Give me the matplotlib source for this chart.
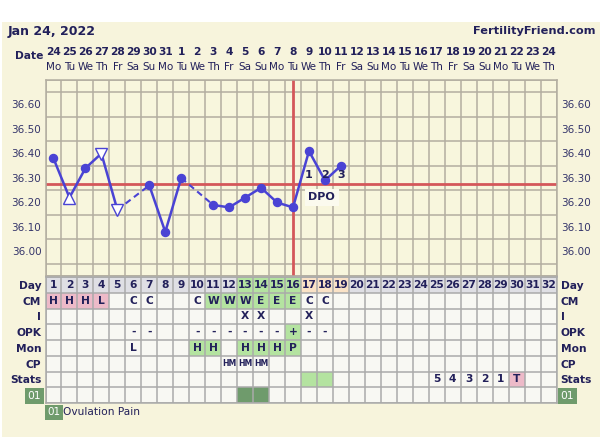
import numpy as np
import matplotlib.pyplot as plt
from matplotlib.patches import Rectangle
from matplotlib.transforms import blended_transform_factory

# ---- data ----
dates = [24, 25, 26, 27, 28, 29, 30, 31, 1, 2, 3, 4, 5, 6, 7, 8,
         9, 10, 11, 12, 13, 14, 15, 16, 17, 18, 19, 20, 21, 22, 23, 24]
dows = ['Mo', 'Tu', 'We', 'Th', 'Fr', 'Sa', 'Su'] * 5
dows = dows[:32]
days = np.arange(1, 33)

temps = [36.38, 36.22, 36.34, 36.40, 36.17, np.nan, 36.27, 36.08, 36.30, np.nan,
         36.19, 36.18, 36.22, 36.26, 36.20, 36.18, 36.41, 36.29, 36.35]
open_up = [2]
open_down = [4, 5]
coverline = 36.277
ovulation_day = 16
dpo_days = [17, 18, 19]

row_names = ['Day', 'CM', 'I', 'OPK', 'Mon', 'CP', 'Stats', '01']
cm = {1: 'H', 2: 'H', 3: 'H', 4: 'L', 6: 'C', 7: 'C', 10: 'C', 11: 'W', 12: 'W',
      13: 'W', 14: 'E', 15: 'E', 16: 'E', 17: 'C', 18: 'C'}
cm_pink = [1, 2, 3, 4]
cm_green = [11, 12, 13, 14, 15, 16]
intercourse = {13: 'X', 14: 'X', 17: 'X'}
opk = {6: '-', 7: '-', 10: '-', 11: '-', 12: '-', 13: '-', 14: '-', 15: '-',
       16: '+', 17: '-', 18: '-'}
opk_green = [16]
mon = {6: 'L', 10: 'H', 11: 'H', 13: 'H', 14: 'H', 15: 'H', 16: 'P'}
mon_green = [10, 11, 13, 14, 15, 16]
cp = {12: 'HM', 13: 'HM', 14: 'HM'}
stats = {25: '5', 26: '4', 27: '3', 28: '2', 29: '1', 30: 'T'}
stats_green = [17, 18]
stats_pink = [30]
ov_pain = [13, 14]
fertile_days = [13, 14, 15, 16]
dpo_col_days = [17, 18, 19]

# ---- style ----
navy = '#22205a'
bg = '#f7f4dc'
gridc = '#b3aea0'
red = '#d4575a'
blue = '#4a43d4'
pink = '#edbac8'
lgreen = '#b4e3a0'
dgreen = '#6f9b6c'
W, H = 600, 437

fig = plt.figure(figsize=(6, 4.37), dpi=100, facecolor='white')
fig.patches.append(Rectangle((2 / W, 0), 1, 1 - 22 / H, transform=fig.transFigure,
                             facecolor=bg, edgecolor='none', zorder=-10))

def fx(px):
    return px / W

def fy(py):
    return 1 - py / H

x0, x1 = 45.5, 556.5

# ---- temperature chart ----
ax = fig.add_axes([fx(x0), fy(276), fx(x1 - x0), (276 - 80) / H])
ax.set_facecolor('#f8f6dd')
ax.set_xlim(0.5, 32.5)
ax.set_ylim(35.90, 36.70)
ax.set_xticks(np.arange(0.5, 33, 1), minor=True)
ax.set_xticks([])
ax.set_yticks(np.arange(35.90, 36.701, 0.05), minor=True)
ax.set_yticks(np.arange(36.0, 36.61, 0.1))
ax.set_yticklabels(['%.2f' % v for v in np.arange(36.0, 36.61, 0.1)])
ax.tick_params(which='both', length=0, labelleft=True, labelright=True,
               labelsize=7.5, labelcolor='#34346a', pad=3)
ax.grid(which='minor', color=gridc, lw=1.1)
for s in ax.spines.values():
    s.set_color(gridc)
    s.set_linewidth(1.1)

t = np.array(temps)
d = np.arange(1, len(t) + 1)
ax.axhline(coverline, color=red, lw=2, zorder=2)
ax.axvline(ovulation_day, color=red, lw=2, zorder=2)
ax.plot(d, t, color=blue, lw=1.8, zorder=3)
# dashed connectors over missing days
valid = ~np.isnan(t)
vd = d[valid]
vt = t[valid]
for i in range(len(vd) - 1):
    if vd[i + 1] - vd[i] > 1:
        ax.plot([vd[i], vd[i + 1]], [vt[i], vt[i + 1]], color=blue, lw=1.5,
                ls=(0, (3, 2)), zorder=3)
normal = [k for k in vd if k not in open_up + open_down]
ax.plot(normal, t[np.array(normal) - 1], 'o', color=blue, ms=5.8, zorder=4)
ax.plot(open_up, t[np.array(open_up) - 1], '^', mfc='white', mec=blue, ms=8, mew=1,
        zorder=4)
ax.plot(open_down, t[np.array(open_down) - 1], 'v', mfc='white', mec=blue, ms=8,
        mew=1, zorder=4)
for k, dd in enumerate(dpo_days):
    ax.text(dd, 36.312, str(k + 1), ha='center', va='center', fontsize=8,
            fontweight='bold', color=navy, zorder=5)
ax.text(np.mean(dpo_days) - 0.2, 36.222, 'DPO', ha='center', va='center', fontsize=8,
        fontweight='bold', color=navy, zorder=5,
        bbox=dict(facecolor='#fbfaee', edgecolor='none', pad=2.5))

# header
hdr = blended_transform_factory(ax.transData, fig.transFigure)
for dd, dt, dw in zip(days, dates, dows):
    ax.text(dd, fy(52), str(dt), transform=hdr, ha='center', va='center',
            fontsize=7.7, fontweight='bold', color=navy)
    ax.text(dd, fy(67), dw, transform=hdr, ha='center', va='center',
            fontsize=7.5, color=navy)
fig.text(fx(43), fy(56), 'Date', ha='right', va='center', fontsize=7.7,
         fontweight='bold', color=navy)
fig.text(fx(8), fy(31), 'Jan 24, 2022', ha='left', va='center', fontsize=9,
         fontweight='bold', color=navy)
fig.text(fx(595), fy(31), 'FertilityFriend.com', ha='right', va='center',
         fontsize=8.2, fontweight='bold', color=navy)

# ---- data table ----
tb = fig.add_axes([fx(x0), fy(403), fx(x1 - x0), (403 - 277) / H])
tb.set_facecolor('#f8f8f3')
tb.set_xlim(0.5, 32.5)
tb.set_ylim(len(row_names), 0)
tb.set_xticks([])
tb.set_xticks(np.arange(0.5, 33, 1), minor=True)
tb.set_yticks(np.arange(0, len(row_names) + 1), minor=True)
tb.set_yticks(np.arange(len(row_names)) + 0.5)
tb.set_yticklabels(row_names)
tb.tick_params(which='both', length=0, labelleft=True, labelright=True,
               labelsize=7.7, labelcolor=navy, pad=3)
for tk in tb.yaxis.get_major_ticks():
    for lab in (tk.label1, tk.label2):
        lab.set_fontweight('bold')
        if lab.get_text() == '01':
            lab.set_color('white')
            lab.set_fontweight('normal')
            lab.set_bbox(dict(facecolor=dgreen, edgecolor='none', pad=2))
tb.grid(which='minor', color='#aaaaaa', lw=1.1)
for s in tb.spines.values():
    s.set_color('#aaaaaa')
    s.set_linewidth(1.1)

def row_bg(row, cols, color):
    if cols:
        tb.bar(cols, 1, bottom=row, width=1, color=color, zorder=1)

row_bg(0, list(days), '#dfdfe4')
row_bg(0, fertile_days, lgreen)
row_bg(0, dpo_col_days, '#fae2c6')
row_bg(1, cm_pink, pink)
row_bg(1, cm_green, lgreen)
row_bg(3, opk_green, lgreen)
row_bg(4, mon_green, lgreen)
row_bg(6, stats_green, lgreen)
row_bg(6, stats_pink, pink)
row_bg(7, ov_pain, dgreen)

for dd in days:
    tb.text(dd, 0.5, str(dd), ha='center', va='center', fontsize=7.7,
            fontweight='bold', color=navy, zorder=3)
for row, vals in [(1, cm), (2, intercourse), (3, opk), (4, mon), (6, stats)]:
    for dd, txt in vals.items():
        tb.text(dd, row + 0.5, txt, ha='center', va='center', fontsize=7.7,
                fontweight='bold', color=navy, zorder=3)
for dd, txt in cp.items():
    tb.text(dd, 5.5, txt, ha='center', va='center', fontsize=5.6,
            fontweight='bold', color=navy, zorder=3)

# legend
fig.text(fx(47), fy(412), '01', ha='left', va='center', fontsize=7.5, color='white',
         bbox=dict(facecolor=dgreen, edgecolor='none', pad=1.8))
fig.text(fx(63), fy(412), 'Ovulation Pain', ha='left', va='center', fontsize=7.7,
         color=navy)

plt.savefig('out.png', dpi=100, facecolor='white')
